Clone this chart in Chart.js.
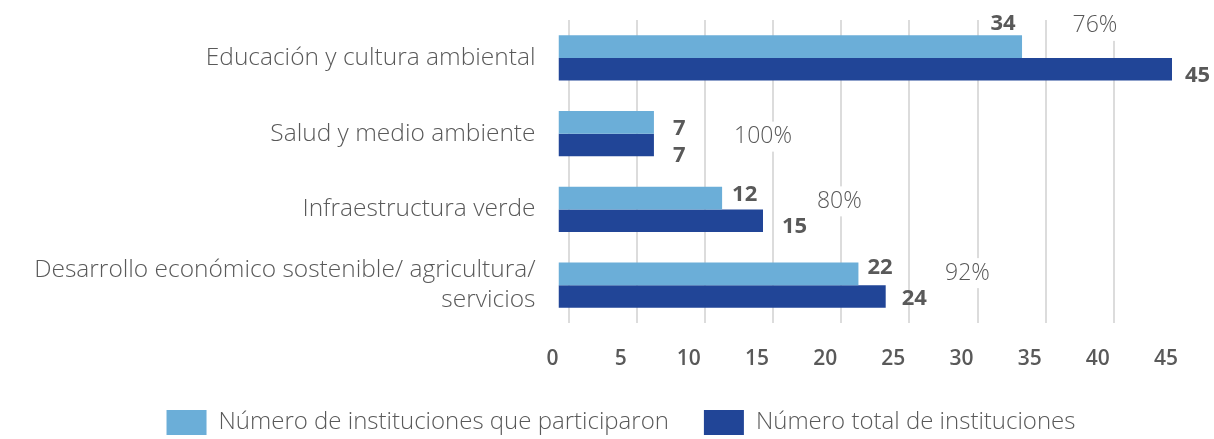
<!DOCTYPE html>
<html>
<head>
<meta charset="utf-8">
<script src="https://cdn.jsdelivr.net/npm/chart.js@4.4.1/dist/chart.umd.min.js"></script>
<style>
  html, body { margin: 0; padding: 0; background: #ffffff; }
  #wrap { width: 1214px; height: 439px; position: relative; }
</style>
</head>
<body>
<div id="wrap"><canvas id="c" width="1214" height="439"></canvas></div>
<script>
// ---- data ----
const categories = [
  "Educación y cultura ambiental",
  "Salud y medio ambiente",
  "Infraestructura verde",
  ["Desarrollo económico sostenible/ agricultura/", "servicios"]
];
const seriesNames = ["Número de instituciones que participaron", "Número total de instituciones"];
const participaron = [34, 7, 12, 22];
const totalInst = [45, 7, 15, 24];
const xTicks = [0, 5, 10, 15, 20, 25, 30, 35, 40, 45];
const gridValues = [0, 5, 10, 15, 20, 25, 30, 35, 40];

// ---- styles ----
const TXT = '#595959';
const LIGHT = '#6BAED8';
const DARK = '#214597';
const FONT = "'Open Sans', 'DejaVu Sans', sans-serif";

// percentage labels: text derived from data; placement (x in axis units, dy px from category centre)
const pctPlacement = [
  { x: 39.35, dy: -32 },
  { x: 15.0, dy: 3 },
  { x: 20.6, dy: -8 },
  { x: 30.0, dy: -12 }
];
// value label offsets (px) relative to bar end / bar centre
const valOffsets = [
  [ { dx: -19, dy: -23, align: 'center' }, { dx: 13, dy: 6, align: 'left' } ],
  [ { dx: 19, dy: 6, align: 'left' }, { dx: 19, dy: 11, align: 'left' } ],
  [ { dx: 10, dy: -3, align: 'left' }, { dx: 19, dy: 6, align: 'left' } ],
  [ { dx: 9, dy: -6, align: 'left' }, { dx: 16, dy: 2, align: 'left' } ]
];

const labelsPlugin = {
  id: 'labelsPlugin',
  afterDatasetsDraw(chart) {
    const ctx = chart.ctx;
    const xs = chart.scales.x;
    const ys = chart.scales.y;
    ctx.save();
    ctx.font = "700 22px " + FONT;
    ctx.fillStyle = TXT;
    ctx.textBaseline = 'middle';
    chart.data.datasets.forEach((ds, di) => {
      const meta = chart.getDatasetMeta(di);
      meta.data.forEach((bar, i) => {
        const o = valOffsets[i][di];
        ctx.textAlign = o.align;
        ctx.fillText(String(ds.data[i]), bar.x + o.dx, bar.y + o.dy);
      });
    });
    ctx.font = "300 23px " + FONT;
    ctx.textAlign = 'center';
    participaron.forEach((p, i) => {
      const txt = Math.round(p / totalInst[i] * 100) + '%';
      const px = xs.getPixelForValue(pctPlacement[i].x);
      const py = ys.getPixelForValue(i) + pctPlacement[i].dy;
      const w = ctx.measureText(txt).width;
      ctx.fillStyle = '#ffffff';
      ctx.fillRect(px - w / 2 - 4, py - 15, w + 8, 30);
      ctx.fillStyle = TXT;
      ctx.fillText(txt, px, py);
    });
    ctx.restore();
  }
};

const PX_PER_UNIT = 613.5 / 45;
const X_MAX = 655.5 / PX_PER_UNIT;
const G_SHIFT = 10 / PX_PER_UNIT;

new Chart(document.getElementById('c'), {
  type: 'bar',
  data: {
    labels: categories,
    datasets: [
      { label: seriesNames[0], data: participaron, backgroundColor: LIGHT, borderWidth: 0 },
      { label: seriesNames[1], data: totalInst, backgroundColor: DARK, borderWidth: 0 }
    ]
  },
  options: {
    indexAxis: 'y',
    responsive: false,
    animation: false,
    devicePixelRatio: 1,
    layout: { padding: { left: 28, right: 0, top: 20, bottom: 0 } },
    datasets: { bar: { categoryPercentage: 0.6, barPercentage: 1.0 } },
    scales: {
      y: {
        type: 'category',
        grid: { display: false, drawTicks: false },
        border: { display: false },
        ticks: { color: TXT, font: { family: FONT, size: 24.5, weight: '300' }, padding: 23 },
        afterFit(scale) { scale.width = 530.5; scale.paddingTop = 0; scale.paddingBottom = 0; }
      },
      x: {
        type: 'linear',
        min: 0, max: X_MAX,
        grid: { display: false, drawTicks: false },
        border: { display: false },
        afterBuildTicks(scale) { scale.ticks = xTicks.map(v => ({ value: v })); },
        ticks: { color: TXT, font: { family: FONT, size: 21, weight: '600' }, padding: 23, labelOffset: -6 },
        afterFit(scale) { scale.height = 52; scale.paddingLeft = 0; scale.paddingRight = 0; }
      },
      xg: {
        type: 'linear',
        axis: 'x',
        position: 'bottom',
        min: -G_SHIFT, max: X_MAX - G_SHIFT,
        grid: { display: true, color: '#DCDCDC', lineWidth: 2, drawTicks: false },
        border: { display: false },
        ticks: { display: false },
        afterBuildTicks(scale) { scale.ticks = gridValues.map(v => ({ value: v })); },
        afterFit(scale) { scale.height = 0; }
      }
    },
    plugins: {
      legend: {
        position: 'bottom',
        maxHeight: 64,
        labels: {
          color: TXT,
          font: { family: FONT, size: 24, weight: '300' },
          boxWidth: 40, boxHeight: 25,
          padding: 35
        }
      },
      tooltip: { enabled: false }
    }
  },
  plugins: [labelsPlugin]
});
</script>
</body>
</html>
